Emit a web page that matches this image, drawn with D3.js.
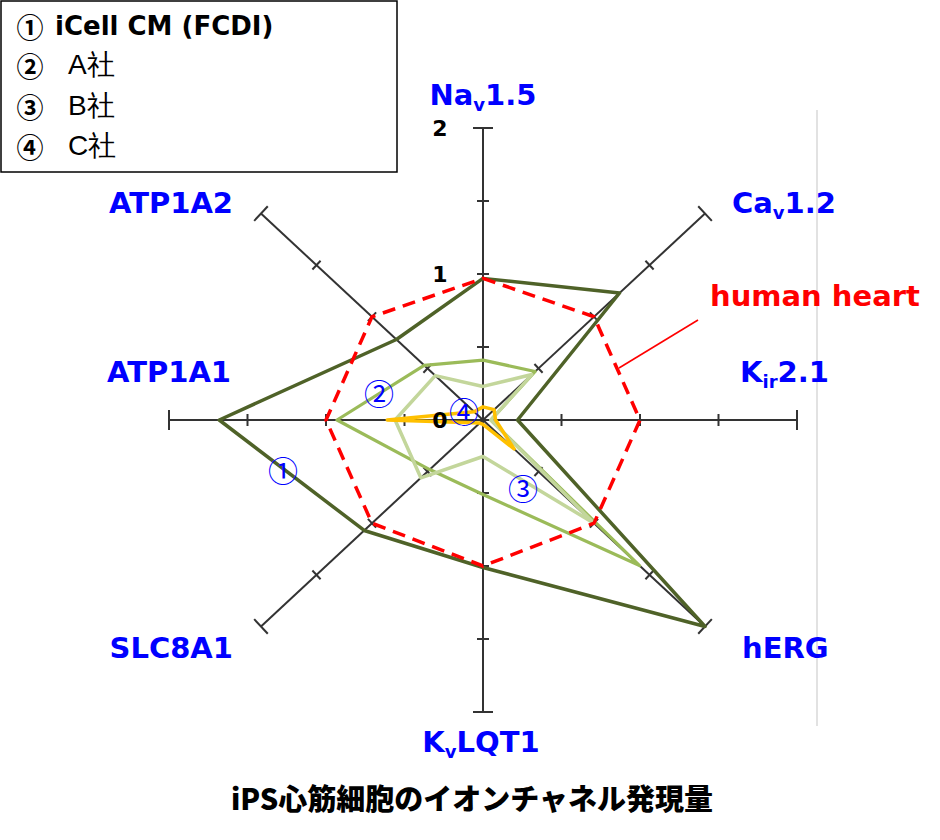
<!DOCTYPE html>
<html><head><meta charset="utf-8">
<script src="https://cdn.jsdelivr.net/npm/d3@7/dist/d3.min.js"></script>
<style>body{margin:0;background:#fff}svg{display:block}</style>
</head><body>
<script>
// ---- data ----
const axesMain = ["Na","Ca","K","hERG","K","SLC8A1","ATP1A1","ATP1A2"];
const axesSub  = ["v","v","ir","","v","","",""];
const axesTail = ["1.5","1.2","2.1","","LQT1","","",""];
const tickValues = [0.5, 1, 1.5, 2];
const tickLabels = ["0", "1", "2"];
const humanHeart = [0.97, 1.0, 1.0, 1.0, 1.0, 1.0, 1.0, 1.0];
const iCell = [0.97, 1.23, 0.22, 2.0, 1.01, 1.07, 1.68, 0.78];
const companyA = [0.41, 0.47, 0.05, 1.41, 0.51, 0.48, 0.93, 0.53];
const companyB = [0.23, 0.44, 0.05, 1.0, 0.25, 0.56, 0.56, 0.43];
const companyC = [0.09, 0.1, 0.08, 0.28, 0.03, 0.03, 0.61, 0.08];
const legendMarks = ["①", "②", "③", "④"];
const legendNames = ["iCell CM (FCDI)", "A社", "B社", "C社"];
const titleText = "iPS心筋細胞のイオンチャネル発現量";
const humanLabel = "human heart";

// ---- layout ----
const W = 940, H = 840, cx = 483, cy = 420;
const svg = d3.select("body").append("svg").attr("width", W).attr("height", H);
const rx = d3.scaleLinear().domain([0, 2]).range([0, 314]);
const ry = d3.scaleLinear().domain([0, 2]).range([0, 292]);
const ang = i => i * Math.PI / 4;
const pt = (v, i) => [cx + rx(v) * Math.sin(ang(i)), cy - ry(v) * Math.cos(ang(i))];

// plot-area right border
svg.append("line").attr("x1", 817).attr("x2", 817).attr("y1", 110).attr("y2", 726)
  .attr("stroke", "#d9d9d9").attr("stroke-width", 1.5);

// axes
const gAx = svg.append("g");
axesMain.forEach((_, i) => {
  const [x2, y2] = pt(2, i);
  gAx.append("line").attr("x1", cx).attr("y1", cy).attr("x2", x2).attr("y2", y2)
    .attr("stroke", "#333").attr("stroke-width", 2);
  const dx = x2 - cx, dy = y2 - cy, L = Math.hypot(dx, dy);
  const px = -dy / L, py = dx / L;
  tickValues.forEach(t => {
    const [tx, ty] = pt(t, i);
    const h = t === 2 ? 10 : 6;
    gAx.append("line").attr("x1", tx - px * h).attr("y1", ty - py * h)
      .attr("x2", tx + px * h).attr("y2", ty + py * h)
      .attr("stroke", "#333").attr("stroke-width", 2);
  });
});

// series
const line = d3.line().curve(d3.curveLinearClosed);
const series = [
  {vals: iCell, color: "#4F6228", w: 3.5},
  {vals: companyA, color: "#9BBB59", w: 3.2},
  {vals: companyB, color: "#C3D69B", w: 3.5},
  {vals: companyC, color: "#FFC000", w: 3.5}
];
series.forEach(s => {
  svg.append("path").attr("d", line(s.vals.map((v, i) => pt(v, i))))
    .attr("fill", "none").attr("stroke", s.color).attr("stroke-width", s.w)
    .attr("stroke-linejoin", "round");
});
svg.append("path").attr("d", line(humanHeart.map((v, i) => pt(v, i))))
  .attr("fill", "none").attr("stroke", "#FF0000").attr("stroke-width", 3.5)
  .attr("stroke-dasharray", "13 8");

// tick labels 0,1,2 on vertical axis
tickLabels.forEach(t => {
  const [, y] = pt(+t, 0);
  svg.append("text").attr("x", 440).attr("y", y + 8).attr("text-anchor", "middle")
    .attr("font-family", "DejaVu Sans").attr("font-weight", "bold").attr("font-size", 22)
    .attr("fill", "#000").text(t);
});

// axis labels
const labelPos = [
  {x: 483, y: 105, anchor: "middle"},
  {x: 732, y: 213, anchor: "start"},
  {x: 740, y: 382, anchor: "start"},
  {x: 742, y: 658, anchor: "start"},
  {x: 481, y: 752, anchor: "middle"},
  {x: 233, y: 658, anchor: "end"},
  {x: 231, y: 382, anchor: "end"},
  {x: 233, y: 213, anchor: "end"}
];
axesMain.forEach((m, i) => {
  const p = labelPos[i];
  const t = svg.append("text").attr("x", p.x).attr("y", p.y).attr("text-anchor", p.anchor)
    .attr("font-family", "DejaVu Sans").attr("font-weight", "bold").attr("font-size", 29)
    .attr("fill", "#0000FF");
  t.append("tspan").text(m);
  if (axesSub[i]) {
    t.append("tspan").attr("font-size", 18).attr("dy", 6).text(axesSub[i]);
    t.append("tspan").attr("dy", -6).text(axesTail[i]);
  }
});

// human heart label + pointer
svg.append("text").attr("x", 710).attr("y", 306).attr("font-family", "DejaVu Sans")
  .attr("font-weight", "bold").attr("font-size", 29).attr("fill", "#FF0000").text(humanLabel);
svg.append("line").attr("x1", 698).attr("y1", 320).attr("x2", 619).attr("y2", 368)
  .attr("stroke", "#FF0000").attr("stroke-width", 1.6);

// circled annotations
const annot = [
  {t: "①", x: 283, y: 469}, {t: "②", x: 379, y: 392},
  {t: "③", x: 523, y: 487}, {t: "④", x: 464, y: 410}
];
annot.forEach(a => {
  svg.append("text").attr("x", a.x).attr("y", a.y).attr("text-anchor", "middle")
    .attr("dominant-baseline", "central").attr("font-family", "Noto Sans CJK JP")
    .attr("font-size", 30).attr("fill", "#0000FF").text(a.t);
});

// legend
svg.append("rect").attr("x", 1).attr("y", 1).attr("width", 396).attr("height", 171)
  .attr("fill", "#fff").attr("stroke", "#000").attr("stroke-width", 1.5);
const rowY = [35, 74, 115, 155];
legendNames.forEach((n, k) => {
  svg.append("text").attr("x", 30).attr("y", rowY[k] - 9).attr("text-anchor", "middle")
    .attr("dominant-baseline", "central").attr("font-family", "Noto Sans CJK JP")
    .attr("font-weight", "bold").attr("font-size", 27).attr("fill", "#000").text(legendMarks[k]);
  svg.append("text").attr("x", k === 0 ? 55 : 68).attr("y", rowY[k])
    .attr("font-family", k === 0 ? "DejaVu Sans" : "Liberation Sans")
    .attr("font-weight", k === 0 ? "bold" : "normal").attr("font-size", k === 0 ? 26 : 28)
    .attr("fill", "#000").text(n);
});

// title
svg.append("text").attr("x", 472).attr("y", 810).attr("text-anchor", "middle")
  .attr("font-family", "Noto Sans CJK JP").attr("font-weight", 900).attr("font-size", 29)
  .attr("fill", "#000").text(titleText);
</script>
</body></html>
